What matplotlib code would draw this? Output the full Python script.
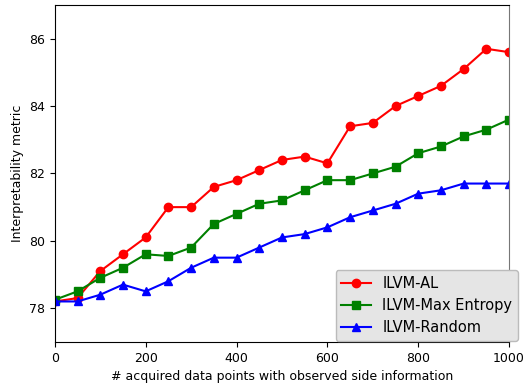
import matplotlib
matplotlib.use("Agg")
import matplotlib.pyplot as plt

x = list(range(0, 1001, 50))
al = [78.2, 78.3, 79.1, 79.6, 80.1, 81.0, 81.0, 81.6, 81.8, 82.1, 82.4,
      82.5, 82.3, 83.4, 83.5, 84.0, 84.3, 84.6, 85.1, 85.7, 85.6]
maxent = [78.25, 78.5, 78.9, 79.2, 79.6, 79.55, 79.8, 80.5, 80.8, 81.1, 81.2,
          81.5, 81.8, 81.8, 82.0, 82.2, 82.6, 82.8, 83.1, 83.3, 83.6]
rand = [78.2, 78.2, 78.4, 78.7, 78.5, 78.8, 79.2, 79.5, 79.5, 79.8, 80.1,
        80.2, 80.4, 80.7, 80.9, 81.1, 81.4, 81.5, 81.7, 81.7, 81.7]

fig = plt.figure(figsize=(5.27, 3.85), dpi=100)
ax = fig.add_axes([0.104, 0.112, 0.862, 0.875])
ax.plot(x, al, color='red', marker='o', markersize=6, linewidth=1.5, label='ILVM-AL')
ax.plot(x, maxent, color='green', marker='s', markersize=6, linewidth=1.5, label='ILVM-Max Entropy')
ax.plot(x, rand, color='blue', marker='^', markersize=6, linewidth=1.5, label='ILVM-Random')
ax.set_xlim(0, 1000)
ax.set_ylim(77, 87)
ax.set_yticks([78, 80, 82, 84, 86])
ax.set_xticks([0, 200, 400, 600, 800, 1000])
ax.tick_params(labelsize=9)
ax.set_xlabel('# acquired data points with observed side information', fontsize=9)
ax.set_ylabel('Interpretability metric', fontsize=9)
ax.spines['right'].set_color('#777777')
leg = fig.legend(loc='lower right', bbox_to_anchor=(0.983, 0.114), borderaxespad=0,
                 fontsize=10.5, fancybox=True, framealpha=1)
leg.get_frame().set_facecolor('#e5e5e5')
leg.get_frame().set_edgecolor('#bbbbbb')
fig.savefig('out.png', dpi=100)
